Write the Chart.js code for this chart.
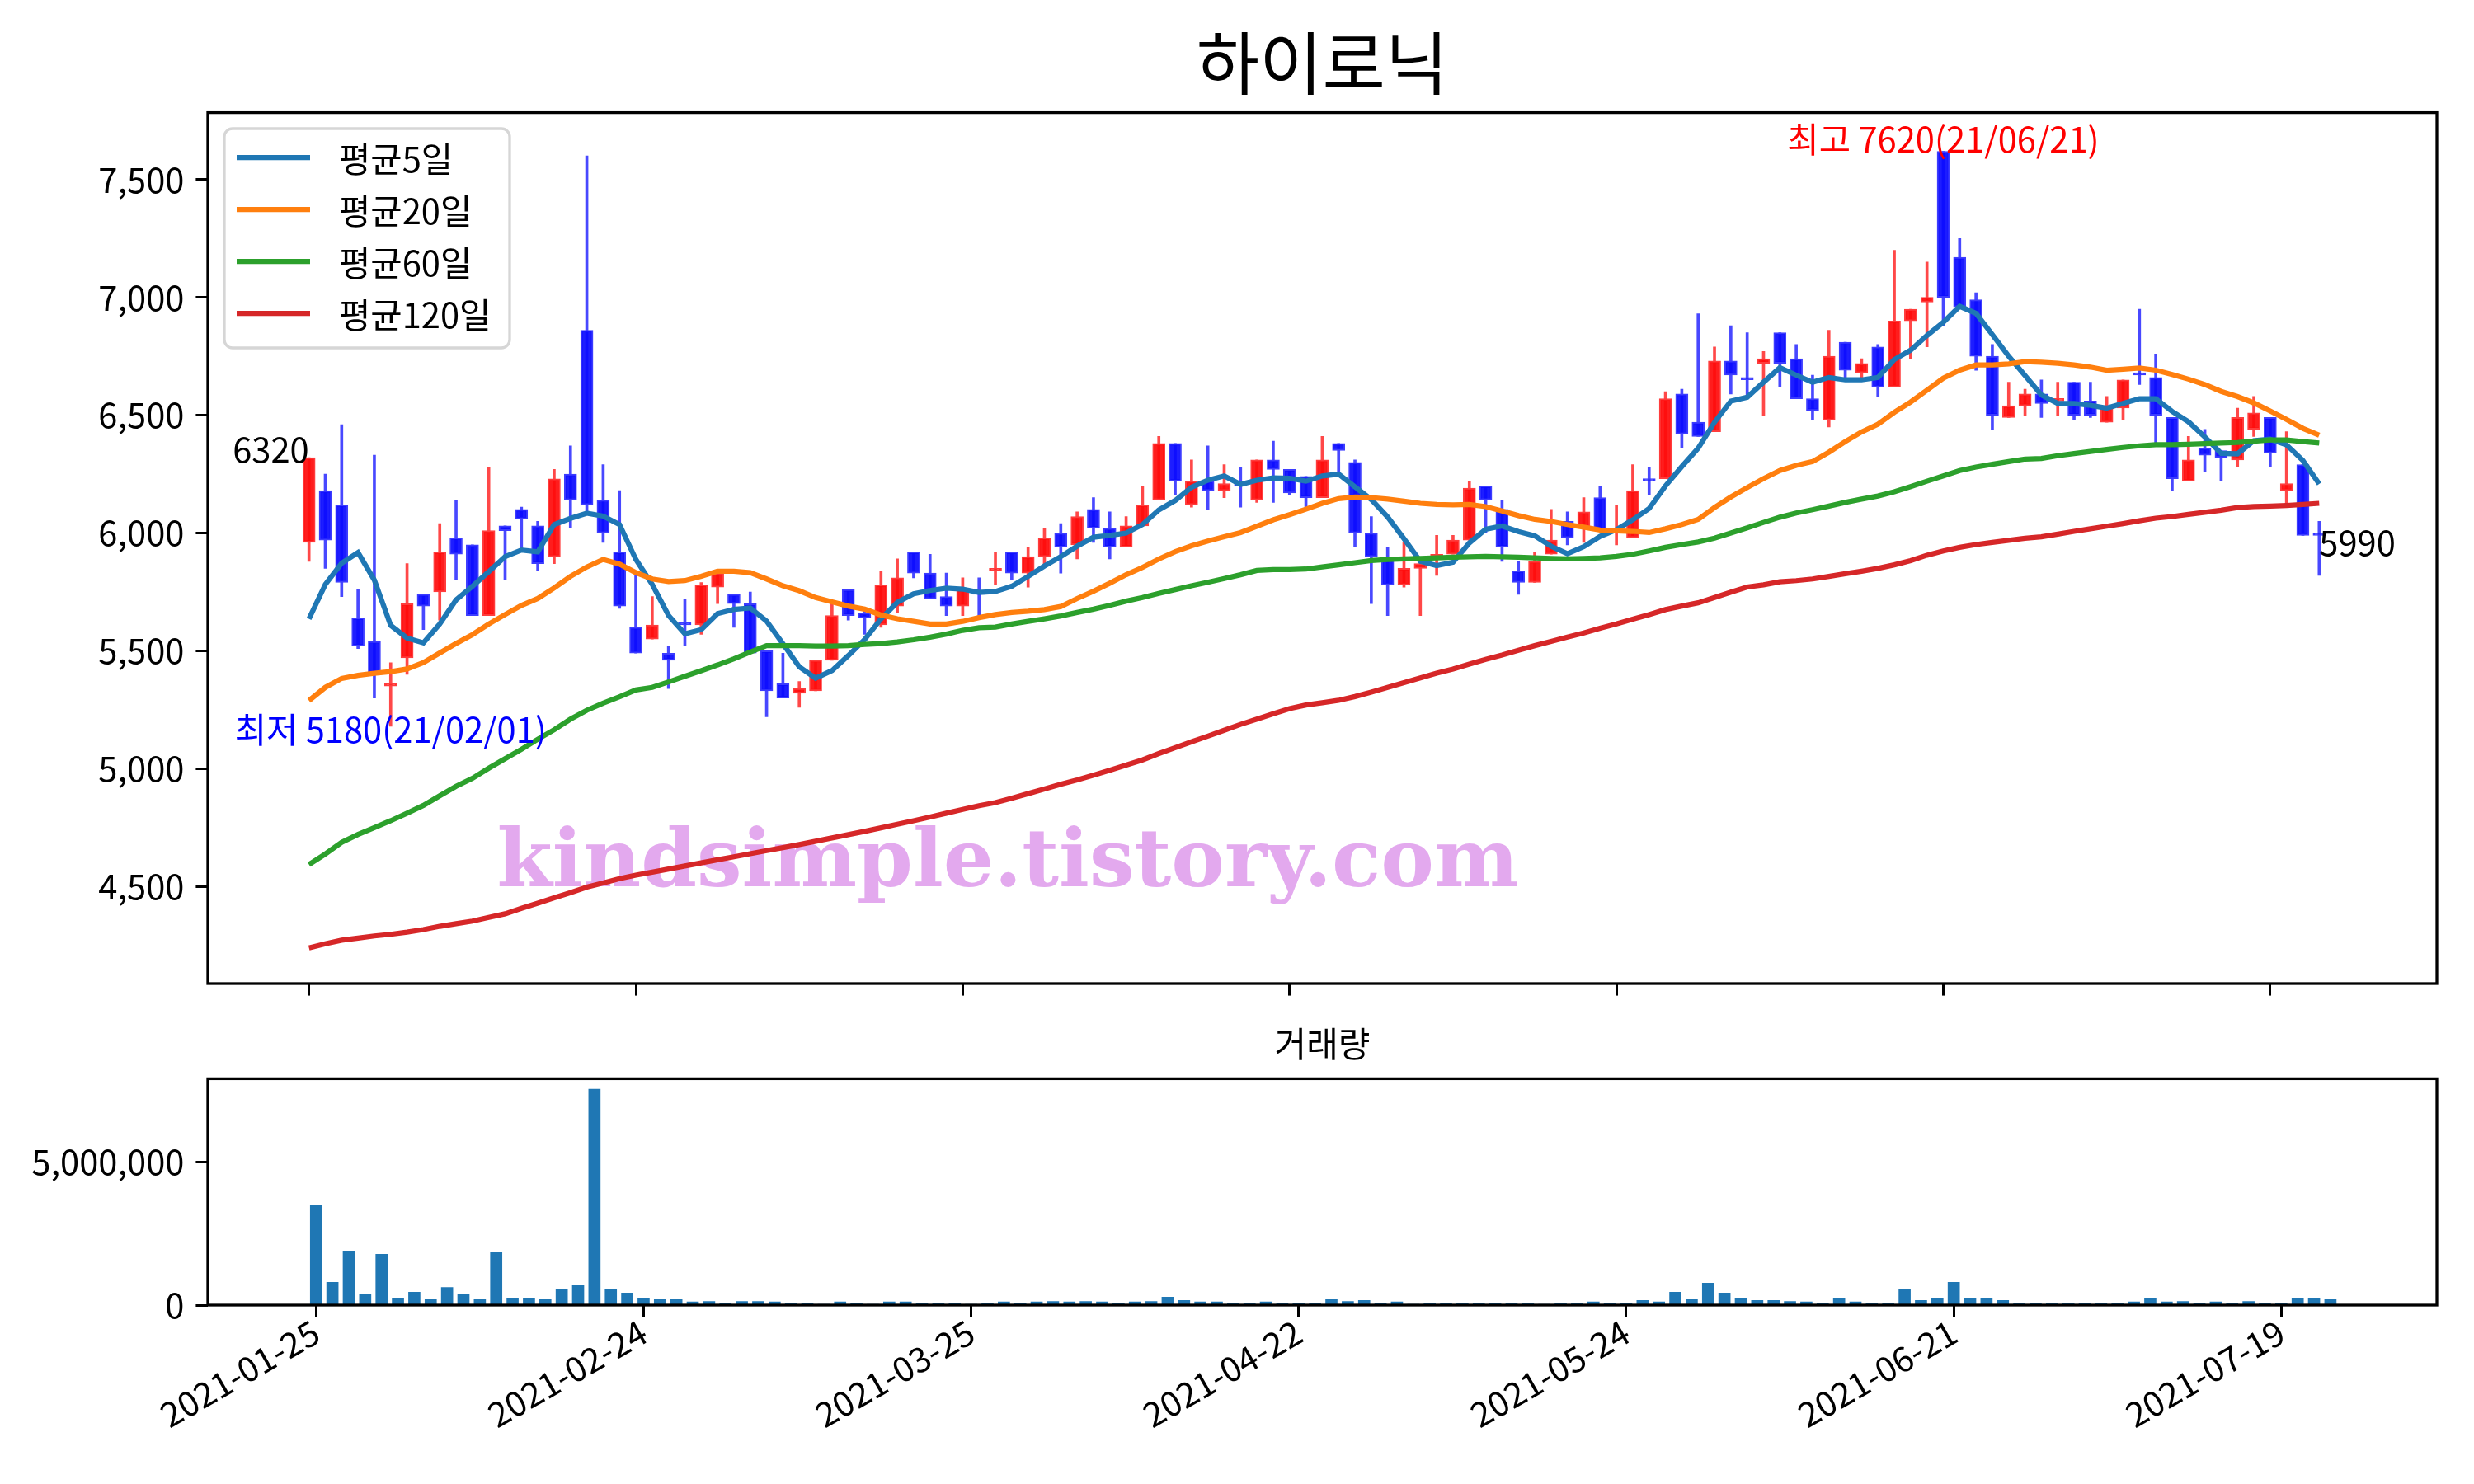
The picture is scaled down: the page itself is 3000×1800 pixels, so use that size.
<!DOCTYPE html>
<html>
<head>
<meta charset="utf-8">
<script src="https://cdn.jsdelivr.net/npm/chart.js@4.4.0/dist/chart.umd.min.js"></script>
<style>
  html, body { margin: 0; padding: 0; background: #fff; }
  body { width: 3000px; height: 1800px; position: relative; overflow: hidden; }
  #priceChart { position: absolute; left: 0; top: 0; }
  #volChart { position: absolute; left: 0; top: 1215px; }
</style>
</head>
<body>
<canvas id="priceChart" width="3000" height="1233"></canvas>
<canvas id="volChart" width="3000" height="585"></canvas>
<script>
// trading days (2021)
const days = [
  '01-25','01-26','01-27','01-28','01-29','02-01','02-02','02-03','02-04','02-05',
  '02-08','02-09','02-10','02-15','02-16','02-17','02-18','02-19','02-22','02-23',
  '02-24','02-25','02-26','03-02','03-03','03-04','03-05','03-08','03-09','03-10',
  '03-11','03-12','03-15','03-16','03-17','03-18','03-19','03-22','03-23','03-24',
  '03-25','03-26','03-29','03-30','03-31','04-01','04-02','04-05','04-06','04-07',
  '04-08','04-09','04-12','04-13','04-14','04-15','04-16','04-19','04-20','04-21',
  '04-22','04-23','04-26','04-27','04-28','04-29','04-30','05-03','05-04','05-06',
  '05-07','05-10','05-11','05-12','05-13','05-14','05-17','05-18','05-20','05-21',
  '05-24','05-25','05-26','05-27','05-28','05-31','06-01','06-02','06-03','06-04',
  '06-07','06-08','06-09','06-10','06-11','06-14','06-15','06-16','06-17','06-18',
  '06-21','06-22','06-23','06-24','06-25','06-28','06-29','06-30','07-01','07-02',
  '07-05','07-06','07-07','07-08','07-09','07-12','07-13','07-14','07-15','07-16',
  '07-19','07-20','07-21','07-22'
];

const opens = [
  5960,6180,6120,5640,5540,5350,5470,5740,5750,5980,5950,5650,6030,6100,6030,5900,6250,6860,6140,5920,
  5600,5550,5490,5620,5610,5770,5740,5700,5500,5360,5320,5330,5460,5760,5660,5610,5690,5920,5830,5730,
  5690,5750,5840,5920,5830,5900,6000,5950,6100,6020,5940,6030,6140,6380,6120,6220,6180,6210,6140,6310,
  6270,6240,6150,6380,6300,6000,5890,5780,5850,5890,5910,5970,6200,6100,5840,5790,5910,6050,6020,6150,
  6010,5980,6230,6230,6590,6470,6430,6730,6660,6720,6850,6740,6570,6480,6810,6680,6790,6620,6900,6980,
  7620,7170,6990,6750,6490,6540,6590,6560,6640,6560,6470,6530,6680,6660,6490,6220,6360,6350,6310,6440,
  6490,6180,6290,6000
];
const highs = [
  6320,6250,6460,5760,6330,5450,5870,5740,6040,6140,5950,6280,6030,6110,6050,6270,6370,7600,6290,6180,
  5820,5730,5520,5720,5790,5840,5740,5750,5500,5490,5370,5460,5700,5760,5680,5840,5890,5920,5910,5830,
  5810,5810,5920,5920,5940,6020,6040,6090,6150,6090,6070,6200,6410,6380,6310,6370,6290,6280,6310,6390,
  6270,6240,6410,6380,6310,6070,5940,5960,5890,5990,5990,6220,6200,6140,5880,5920,6100,6090,6150,6200,
  6120,6290,6280,6600,6610,6930,6790,6880,6850,6770,6850,6800,6670,6860,6810,6740,6800,7200,6950,7150,
  7620,7250,7020,6800,6640,6610,6650,6640,6640,6640,6580,6650,6950,6760,6490,6410,6440,6350,6530,6580,
  6490,6430,6290,6050
];
const lows = [
  5880,5850,5730,5510,5300,5180,5400,5590,5630,5800,5650,5650,5800,5930,5840,5870,6020,6090,5960,5680,
  5490,5550,5340,5520,5570,5700,5600,5490,5220,5300,5260,5330,5460,5630,5570,5600,5660,5810,5720,5650,
  5650,5650,5780,5800,5770,5870,5830,5890,5960,5890,5940,6030,6140,6160,6110,6100,6150,6110,6130,6130,
  6160,6110,6150,6260,5940,5700,5650,5770,5650,5820,5910,5970,6000,5880,5740,5790,5910,5950,5960,6010,
  5950,5980,6160,6230,6360,6410,6430,6590,6570,6500,6620,6570,6480,6450,6660,6660,6580,6620,6740,6790,
  6880,6960,6690,6440,6490,6500,6490,6500,6480,6490,6470,6480,6630,6380,6180,6220,6260,6220,6280,6410,
  6280,6110,5990,5820
];
const closes = [
  6320,5970,5790,5520,5400,5360,5700,5690,5920,5910,5650,6010,6010,6060,5870,6230,6140,6120,6000,5690,
  5490,5610,5460,5610,5780,5830,5700,5490,5330,5300,5340,5460,5650,5650,5640,5780,5810,5830,5720,5690,
  5760,5740,5850,5830,5900,5980,5940,6070,6020,5940,6030,6120,6380,6220,6220,6180,6210,6200,6310,6270,
  6170,6150,6310,6350,6000,5900,5780,5850,5870,5910,5970,6190,6140,5940,5790,5880,5970,5980,6090,6010,
  6020,6180,6220,6570,6420,6410,6730,6670,6650,6740,6720,6570,6520,6750,6690,6720,6620,6900,6950,7000,
  7000,6960,6750,6500,6540,6590,6550,6570,6500,6500,6530,6650,6670,6500,6230,6310,6330,6320,6490,6510,
  6340,6210,5990,5990
];

// moving averages
const ma5 = [
  5636,5782,5872,5917,5800,5608,5554,5534,5614,5716,5774,5836,5900,5928,5920,6036,6062,6084,6072,6036,
  5888,5782,5650,5572,5590,5658,5676,5682,5626,5530,5432,5384,5416,5480,5548,5636,5706,5742,5756,5766,
  5762,5748,5752,5774,5816,5860,5900,5944,5982,5990,6000,6036,6098,6138,6194,6224,6242,6206,6224,6234,
  6232,6220,6242,6250,6196,6142,6068,5976,5880,5862,5876,5958,6016,6030,6006,5988,5944,5912,5942,5986,
  6014,6056,6104,6200,6282,6360,6470,6560,6576,6640,6702,6670,6640,6660,6650,6650,6660,6736,6776,6838,
  6894,6962,6932,6842,6750,6668,6586,6550,6550,6542,6530,6550,6570,6570,6516,6472,6408,6338,6336,6392,
  6398,6374,6308,6208
];
const ma20 = [
  5289,5345,5383,5396,5405,5412,5423,5450,5491,5531,5569,5614,5654,5693,5722,5767,5816,5856,5888,5868,
  5832,5805,5794,5798,5816,5838,5838,5832,5805,5776,5755,5726,5708,5690,5677,5652,5636,5625,5614,5614,
  5625,5641,5654,5663,5668,5675,5688,5722,5753,5787,5823,5854,5890,5921,5946,5966,5984,6002,6029,6056,
  6078,6101,6126,6146,6153,6150,6144,6135,6126,6121,6119,6121,6112,6094,6074,6058,6049,6036,6025,6013,
  6009,6007,6002,6018,6036,6058,6108,6153,6193,6231,6265,6287,6303,6343,6388,6429,6462,6512,6556,6606,
  6657,6691,6713,6713,6718,6727,6725,6720,6713,6704,6691,6695,6700,6691,6673,6653,6630,6601,6579,6552,
  6518,6482,6444,6415
];
const ma60 = [
  4593,4638,4687,4721,4750,4779,4811,4844,4885,4925,4959,5002,5042,5082,5125,5165,5210,5248,5278,5305,
  5334,5345,5368,5392,5416,5440,5466,5495,5522,5522,5522,5520,5520,5522,5527,5531,5538,5547,5558,5571,
  5587,5598,5601,5614,5625,5636,5648,5663,5677,5693,5711,5726,5744,5760,5776,5791,5807,5823,5841,5845,
  5845,5847,5856,5865,5874,5883,5888,5890,5892,5895,5897,5899,5901,5899,5897,5895,5892,5890,5892,5895,
  5901,5910,5924,5939,5951,5962,5978,6000,6022,6045,6067,6085,6099,6114,6130,6144,6157,6175,6197,6220,
  6242,6265,6280,6292,6303,6314,6316,6328,6337,6346,6355,6363,6370,6375,6375,6377,6379,6382,6384,6390,
  6395,6395,6388,6382
];
const ma120 = [
  4239,4257,4272,4281,4290,4297,4306,4317,4331,4342,4353,4369,4384,4407,4429,4452,4474,4497,4515,4533,
  4548,4561,4574,4587,4600,4613,4626,4639,4652,4665,4678,4692,4706,4720,4734,4749,4764,4779,4795,4811,
  4827,4843,4856,4874,4894,4914,4934,4952,4972,4993,5015,5037,5064,5089,5114,5138,5163,5188,5210,5233,
  5255,5270,5280,5290,5306,5325,5345,5365,5385,5405,5423,5444,5464,5482,5502,5522,5540,5558,5576,5596,
  5614,5634,5654,5675,5690,5704,5726,5749,5771,5780,5793,5798,5805,5816,5827,5838,5850,5865,5883,5906,
  5924,5939,5951,5960,5969,5978,5984,5995,6007,6018,6029,6040,6052,6063,6070,6079,6088,6097,6108,6112,
  6114,6117,6121,6126
];

const volumes = [
  3480000,800000,1890000,390000,1780000,220000,450000,190000,620000,370000,
  190000,1860000,220000,250000,190000,570000,680000,7550000,540000,420000,
  220000,190000,190000,110000,130000,80000,130000,130000,110000,80000,
  50000,30000,110000,50000,30000,110000,110000,80000,50000,50000,
  30000,50000,110000,80000,110000,130000,110000,130000,110000,80000,
  110000,130000,280000,160000,110000,110000,50000,50000,110000,80000,
  80000,50000,190000,130000,160000,80000,110000,30000,50000,50000,
  50000,80000,80000,50000,50000,30000,80000,50000,110000,80000,
  80000,160000,110000,450000,190000,770000,420000,220000,160000,160000,
  130000,110000,80000,220000,110000,80000,80000,570000,160000,220000,
  800000,220000,220000,160000,80000,80000,80000,80000,50000,50000,
  50000,110000,220000,110000,130000,50000,110000,50000,130000,80000,
  80000,250000,220000,190000
];

const priceTicks = [4500, 5000, 5500, 6000, 6500, 7000, 7500];
const volumeTicks = [0, 5000000];
const dateTicks = [0, 20, 40, 60, 80, 100, 120];
const maLabels = ['평균5일', '평균20일', '평균60일', '평균120일'];
const maColors = ['#1f77b4', '#ff7f0e', '#2ca02c', '#d62728'];

const FONT = "'Noto Sans CJK KR', 'Noto Sans', sans-serif";
Chart.defaults.font.family = FONT;
Chart.defaults.color = '#000';

const idx = closes.map((c, i) => i);
const isUp = idx.map(i => closes[i] >= opens[i]);

function tickAxis(extra) {
  return Object.assign({
    offset: false,
    grid: { offset: false, drawOnChartArea: false, drawTicks: true, tickLength: 14.6, tickWidth: 3, tickColor: '#000' },
    border: { display: false }
  }, extra);
}

const framePlugin = {
  id: 'frame',
  afterDatasetsDraw(chart) {
    const { ctx, chartArea: a } = chart;
    ctx.save();
    ctx.strokeStyle = '#000';
    ctx.lineWidth = 3.3;
    ctx.strokeRect(a.left, a.top, a.right - a.left, a.bottom - a.top);
    ctx.restore();
  }
};

const watermarkPlugin = {
  id: 'watermark',
  beforeDatasetsDraw(chart) {
    const { ctx, scales } = chart;
    ctx.save();
    ctx.font = "bold 97px 'DejaVu Serif'";
    ctx.fillStyle = '#e3a9ee';
    ctx.textAlign = 'left';
    ctx.textBaseline = 'alphabetic';
    ctx.fillText('kindsimple.tistory.com', scales.x.getPixelForValue(11.5), scales.y.getPixelForValue(4500));
    ctx.restore();
  }
};

// max / min / first / last labels and the legend box
const notesPlugin = {
  id: 'notes',
  afterDraw(chart) {
    const { ctx, scales } = chart;
    const x = scales.x, y = scales.y;
    const fmt = i => '21/' + days[i].replace('-', '/');
    ctx.save();
    ctx.font = '41.7px ' + FONT;

    const hi = Math.max(...highs), hiIdx = highs.indexOf(hi);
    ctx.fillStyle = '#ff0000';
    ctx.textAlign = 'center';
    ctx.textBaseline = 'alphabetic';
    ctx.fillText('최고 ' + hi + '(' + fmt(hiIdx) + ')', x.getPixelForValue(hiIdx), y.getPixelForValue(hi) + 2);

    const lo = Math.min(...lows), loIdx = lows.indexOf(lo);
    ctx.fillStyle = '#0000ff';
    ctx.textBaseline = 'middle';
    ctx.fillText('최저 ' + lo + '(' + fmt(loIdx) + ')', x.getPixelForValue(loIdx), y.getPixelForValue(lo) + 4);

    ctx.fillStyle = '#000';
    ctx.textBaseline = 'alphabetic';
    ctx.textAlign = 'right';
    ctx.fillText(String(closes[0]), x.getPixelForValue(0), y.getPixelForValue(closes[0]) + 6);
    const last = closes.length - 1;
    ctx.textAlign = 'left';
    ctx.fillText(String(closes[last]), x.getPixelForValue(last), y.getPixelForValue(closes[last]) + 25);

    // legend
    ctx.fillStyle = 'rgba(255,255,255,0.8)';
    ctx.strokeStyle = '#d6d6d6';
    ctx.lineWidth = 3.3;
    ctx.beginPath();
    ctx.roundRect(272, 156, 346, 266, 10);
    ctx.fill();
    ctx.stroke();
    const lines = chart.data.datasets.filter(d => d.type === 'line');
    maLabels.forEach((lab, k) => {
      const ds = lines.find(d => d.label === lab);
      const cy = 191 + k * 63;
      ctx.strokeStyle = ds.borderColor;
      ctx.lineWidth = 6.25;
      ctx.beginPath();
      ctx.moveTo(287, cy);
      ctx.lineTo(376, cy);
      ctx.stroke();
      ctx.fillStyle = '#000';
      ctx.textAlign = 'left';
      ctx.textBaseline = 'middle';
      ctx.fillText(lab, 411, cy + 2);
    });
    ctx.restore();
  }
};

const maSeries = [ma5, ma20, ma60, ma120];
const lineSets = maSeries.map((arr, k) => ({
  type: 'line',
  label: maLabels[k],
  data: idx.map(i => ({ x: i, y: arr[i] })),
  borderColor: maColors[k],
  borderWidth: 6.25,
  pointRadius: 0,
  tension: 0,
  order: 4 - k
}));

new Chart(document.getElementById('priceChart'), {
  type: 'bar',
  data: {
    datasets: [
      ...lineSets,
      {
        type: 'bar',
        label: 'body',
        data: idx.map(i => ({ x: i, y: [opens[i], closes[i]] })),
        backgroundColor: isUp.map(u => u ? 'rgba(255,10,10,0.92)' : 'rgba(10,10,255,0.92)'),
        borderColor: isUp.map(u => u ? 'rgba(255,60,60,1)' : 'rgba(60,60,255,1)'),
        borderWidth: 2,
        borderSkipped: false,
        barThickness: 15,
        minBarLength: 3,
        grouped: false,
        order: 5
      },
      {
        type: 'bar',
        label: 'wick',
        data: idx.map(i => ({ x: i, y: [lows[i], highs[i]] })),
        backgroundColor: isUp.map(u => u ? 'rgba(255,40,40,0.85)' : 'rgba(40,40,255,0.85)'),
        barThickness: 3,
        grouped: false,
        order: 6
      }
    ]
  },
  options: {
    responsive: false,
    animation: false,
    devicePixelRatio: 1,
    layout: { padding: { left: 0, right: 45, top: 0, bottom: 0 } },
    plugins: {
      legend: { display: false },
      tooltip: { enabled: false },
      title: { display: true, fullSize: false, text: '하이로닉', color: '#000', font: { size: 83, weight: 'normal' }, padding: { top: 27, bottom: 10 } }
    },
    scales: {
      x: tickAxis({
        type: 'linear', min: -6.19, max: 130.2,
        afterBuildTicks: s => { s.ticks = dateTicks.map(v => ({ value: v })); },
        ticks: { display: false },
        afterFit: s => { s.height = 40; }
      }),
      y: tickAxis({
        type: 'linear', min: 4088, max: 7784,
        afterBuildTicks: s => { s.ticks = priceTicks.map(v => ({ value: v })); },
        ticks: { font: { size: 41.7 }, padding: 14, color: '#000', callback: v => v.toLocaleString('en-US') },
        afterFit: s => { s.width = 252; }
      })
    }
  },
  plugins: [watermarkPlugin, framePlugin, notesPlugin]
});

new Chart(document.getElementById('volChart'), {
  type: 'bar',
  data: {
    datasets: [{
      label: '거래량',
      data: idx.map(i => ({ x: i, y: volumes[i] })),
      backgroundColor: '#1f77b4',
      barThickness: 14
    }]
  },
  options: {
    responsive: false,
    animation: false,
    devicePixelRatio: 1,
    layout: { padding: { left: 0, right: 45, top: 0, bottom: 0 } },
    plugins: {
      legend: { display: false },
      tooltip: { enabled: false },
      title: { display: true, fullSize: false, text: '거래량', color: '#000', font: { size: 42, weight: 'normal' }, padding: { top: 26, bottom: 17 } }
    },
    scales: {
      x: tickAxis({
        type: 'linear', min: -6.61, max: 129.5,
        afterBuildTicks: s => { s.ticks = dateTicks.map(v => ({ value: v })); },
        ticks: { font: { size: 41.7 }, color: '#000', minRotation: 30, maxRotation: 30, autoSkip: false, padding: -7,
                 callback: v => '2021-' + days[v] },
        afterFit: s => { s.height = 217; }
      }),
      y: tickAxis({
        type: 'linear', min: 0, max: 7912000,
        afterBuildTicks: s => { s.ticks = volumeTicks.map(v => ({ value: v })); },
        ticks: { font: { size: 41.7 }, padding: 14, color: '#000', callback: v => v.toLocaleString('en-US') },
        afterFit: s => { s.width = 252; }
      })
    }
  },
  plugins: [framePlugin]
});
</script>
</body>
</html>
